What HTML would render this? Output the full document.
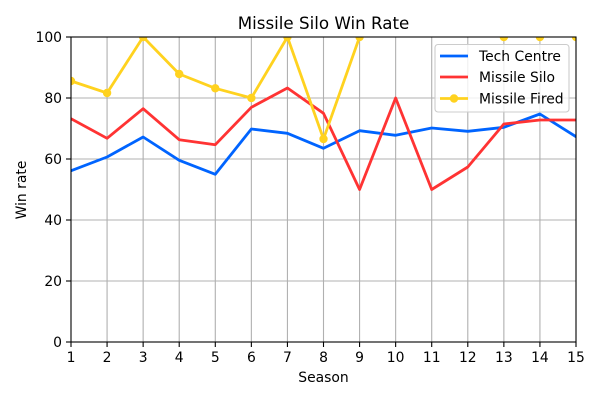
<!DOCTYPE html>
<html><head><meta charset="utf-8"><style>
html,body{margin:0;padding:0;background:#fff;}
svg{display:block;font-family:"DejaVu Sans","Liberation Sans",sans-serif;}
</style></head><body>
<svg width="600" height="400" viewBox="0 0 600 400" xmlns="http://www.w3.org/2000/svg">
<rect width="600" height="400" fill="#fff"/>
<defs><clipPath id="c"><rect x="71" y="37" width="505" height="305"/></clipPath></defs>
<g stroke="#b0b0b0" stroke-width="1.1">
<line x1="107.07" y1="37" x2="107.07" y2="342"/><line x1="143.14" y1="37" x2="143.14" y2="342"/><line x1="179.21" y1="37" x2="179.21" y2="342"/><line x1="215.29" y1="37" x2="215.29" y2="342"/><line x1="251.36" y1="37" x2="251.36" y2="342"/><line x1="287.43" y1="37" x2="287.43" y2="342"/><line x1="323.5" y1="37" x2="323.5" y2="342"/><line x1="359.57" y1="37" x2="359.57" y2="342"/><line x1="395.64" y1="37" x2="395.64" y2="342"/><line x1="431.71" y1="37" x2="431.71" y2="342"/><line x1="467.79" y1="37" x2="467.79" y2="342"/><line x1="503.86" y1="37" x2="503.86" y2="342"/><line x1="539.93" y1="37" x2="539.93" y2="342"/>
<line x1="71" y1="281" x2="576" y2="281"/><line x1="71" y1="220" x2="576" y2="220"/><line x1="71" y1="159" x2="576" y2="159"/><line x1="71" y1="98" x2="576" y2="98"/>
</g>
<g clip-path="url(#c)" fill="none" stroke-width="2.8" stroke-linejoin="round" stroke-linecap="square">
<polyline stroke="#0064ff" points="71,170.7 107.07,157 143.14,137 179.21,160.3 215.29,174.3 251.36,129 287.43,133.3 323.5,148.3 359.57,130.7 395.64,135.3 431.71,128 467.79,131.3 503.86,127.3 539.93,114 576,136.7"/>
<polyline stroke="#ff3333" points="71,118.7 107.07,138.3 143.14,108.7 179.21,139.7 215.29,144.7 251.36,107.3 287.43,88 323.5,113.3 359.57,189.5 395.64,98 431.71,189.5 467.79,167 503.86,124 539.93,120 576,120"/>
<polyline stroke="#ffd21f" points="71,81 107.07,93 143.14,37 179.21,74 215.29,88.3 251.36,98 287.43,37 323.5,139 359.57,37"/>
<g fill="#ffd21f" stroke="none">
<circle cx="71" cy="81" r="4.2"/><circle cx="107.07" cy="93" r="4.2"/><circle cx="143.14" cy="37" r="4.2"/><circle cx="179.21" cy="74" r="4.2"/><circle cx="215.29" cy="88.3" r="4.2"/><circle cx="251.36" cy="98" r="4.2"/><circle cx="287.43" cy="37" r="4.2"/><circle cx="323.5" cy="139" r="4.2"/><circle cx="359.57" cy="37" r="4.2"/><circle cx="503.86" cy="37" r="4.2"/><circle cx="539.93" cy="37" r="4.2"/><circle cx="576" cy="37" r="4.2"/>
</g>
</g>
<rect x="71" y="37" width="505" height="305" fill="none" stroke="#000" stroke-width="1.1"/>
<g stroke="#000" stroke-width="1.1">
<line x1="71" y1="342" x2="71" y2="347"/><line x1="107.07" y1="342" x2="107.07" y2="347"/><line x1="143.14" y1="342" x2="143.14" y2="347"/><line x1="179.21" y1="342" x2="179.21" y2="347"/><line x1="215.29" y1="342" x2="215.29" y2="347"/><line x1="251.36" y1="342" x2="251.36" y2="347"/><line x1="287.43" y1="342" x2="287.43" y2="347"/><line x1="323.5" y1="342" x2="323.5" y2="347"/><line x1="359.57" y1="342" x2="359.57" y2="347"/><line x1="395.64" y1="342" x2="395.64" y2="347"/><line x1="431.71" y1="342" x2="431.71" y2="347"/><line x1="467.79" y1="342" x2="467.79" y2="347"/><line x1="503.86" y1="342" x2="503.86" y2="347"/><line x1="539.93" y1="342" x2="539.93" y2="347"/><line x1="576" y1="342" x2="576" y2="347"/>
<line x1="66" y1="342" x2="71" y2="342"/><line x1="66" y1="281" x2="71" y2="281"/><line x1="66" y1="220" x2="71" y2="220"/><line x1="66" y1="159" x2="71" y2="159"/><line x1="66" y1="98" x2="71" y2="98"/><line x1="66" y1="37" x2="71" y2="37"/>
</g>
<g font-size="13.9" fill="#000" text-anchor="middle">
<text x="71" y="362">1</text><text x="107.07" y="362">2</text><text x="143.14" y="362">3</text><text x="179.21" y="362">4</text><text x="215.29" y="362">5</text><text x="251.36" y="362">6</text><text x="287.43" y="362">7</text><text x="323.5" y="362">8</text><text x="359.57" y="362">9</text><text x="395.64" y="362">10</text><text x="431.71" y="362">11</text><text x="467.79" y="362">12</text><text x="503.86" y="362">13</text><text x="539.93" y="362">14</text><text x="576" y="362">15</text>
</g>
<g font-size="13.9" fill="#000" text-anchor="end">
<text x="62" y="347">0</text><text x="62" y="286">20</text><text x="62" y="225">40</text><text x="62" y="164">60</text><text x="62" y="103">80</text><text x="62" y="42">100</text>
</g>
<text x="323.5" y="382" font-size="13.9" text-anchor="middle">Season</text>
<text transform="translate(26,190) rotate(-90)" font-size="13.9" text-anchor="middle">Win rate</text>
<text x="323.5" y="29" font-size="16.7" text-anchor="middle">Missile Silo Win Rate</text>
<rect x="435" y="44.5" width="134" height="67.5" rx="3" fill="#fff" fill-opacity="0.8" stroke="#cccccc" stroke-width="1.1"/>
<line x1="440" y1="56" x2="468" y2="56" stroke="#0064ff" stroke-width="2.8"/>
<line x1="440" y1="77" x2="468" y2="77" stroke="#ff3333" stroke-width="2.8"/>
<line x1="440" y1="98.5" x2="468" y2="98.5" stroke="#ffd21f" stroke-width="2.8"/>
<circle cx="454" cy="98.5" r="4.2" fill="#ffd21f"/>
<g font-size="13.9" fill="#000">
<text x="479" y="61">Tech Centre</text>
<text x="479" y="82">Missile Silo</text>
<text x="479" y="103.5">Missile Fired</text>
</g>
</svg>
</body></html>
